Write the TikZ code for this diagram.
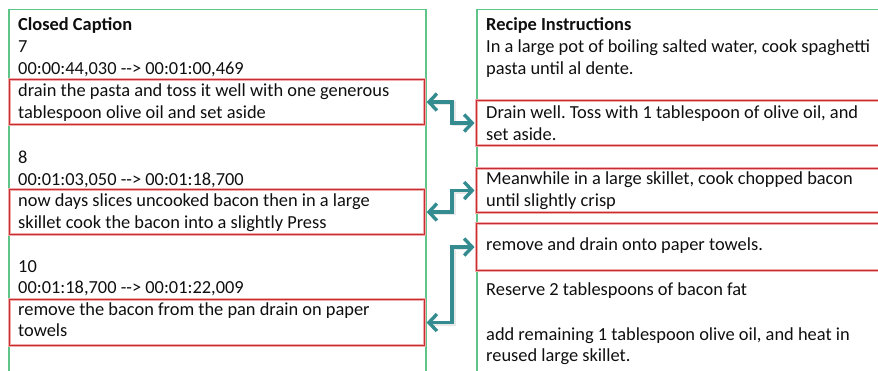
\documentclass[tikz,border=0pt]{standalone}
\usepackage{fontspec}
\setmainfont{Carlito}
\frenchspacing
\usetikzlibrary{arrows.meta}
\definecolor{panelgreen}{RGB}{95,196,135}
\definecolor{boxred}{RGB}{200,45,50}
\definecolor{boxglow}{RGB}{240,170,170}
\definecolor{linkteal}{RGB}{52,140,145}
\definecolor{inktext}{RGB}{15,15,15}
\begin{document}
\begin{tikzpicture}[x=1pt,y=-1pt,
  txt/.style={anchor=base west, inner sep=0pt, text=inktext,
    font=\fontsize{18.4}{21.8}\selectfont},
  head/.style={txt, font=\fontsize{18.4}{21.8}\selectfont\bfseries},
  panel/.style={draw=panelgreen, line width=1.1pt},
  hilite/.style={rectangle, anchor=north west, inner sep=0pt, draw=boxred,
    line width=1.1pt, fill=none,
    preaction={draw=boxglow, line width=3.2pt}},
  link/.style={draw=linkteal, line width=3.4pt, line join=miter,
    {Straight Barb[length=8pt,width=17pt]}-{Straight Barb[length=8pt,width=17pt]},
    shorten <=1.5pt, shorten >=1.5pt},
  linkshade/.style={draw=black!18, opacity=0.5, line width=4.5pt, line join=miter,
    shorten <=4pt, shorten >=4pt}]
\useasboundingbox (0,0) rectangle (878,371);
\clip (0,0) rectangle (878,371);

% column frames
\draw[panel] (9,380) -- (9,9.5) -- (426,9.5) -- (426,380);
\draw[panel] (477,380) -- (477,9.5) -- (890,9.5);

% highlighted caption blocks (left) and instruction blocks (right)
\node[hilite, minimum width=415pt, minimum height=45pt] (l1) at (9,79) {};
\node[hilite, minimum width=415pt, minimum height=45pt] (l2) at (9,189) {};
\node[hilite, minimum width=415pt, minimum height=46pt] (l3) at (9,299) {};
\node[hilite, minimum width=425pt, minimum height=45pt] (r1) at (476,100) {};
\node[hilite, minimum width=425pt, minimum height=44pt] (r2) at (476,168) {};
\node[hilite, minimum width=425pt, minimum height=47pt] (r3) at (476,223) {};

% closed caption column
\node[head] (cch) at (18,31) {Closed Caption};
\node[txt] (c7n) at (18,53) {7};
\node[txt] (c7t) at (18,74.5) {00:00:44,030 -{}-> 00:01:00,469};
\node[txt] (c7a) at (18,97) {drain the pasta and toss it well with one generous};
\node[txt] (c7b) at (18,118.5) {tablespoon olive oil and set aside};
\node[txt] (c8n) at (18,164) {8};
\node[txt] (c8t) at (18,185.5) {00:01:03,050 -{}-> 00:01:18,700};
\node[txt] (c8a) at (18,207) {now days slices uncooked bacon then in a large};
\node[txt] (c8b) at (18,228.5) {skillet cook the bacon into a slightly Press};
\node[txt] (c10n) at (18,272.5) {10};
\node[txt] (c10t) at (18,293.5) {00:01:18,700 -{}-> 00:01:22,009};
\node[txt] (c10a) at (18,315.5) {remove the bacon from the pan drain on paper};
\node[txt] (c10b) at (18,337) {towels};

% recipe column
\node[head] (rih) at (486,31) {Recipe Instructions};
\node[txt] (ri1a) at (486,53) {In a large pot of boiling salted water, cook spaghetti};
\node[txt] (ri1b) at (486,74.5) {pasta until al dente.};
\node[txt] (ri2a) at (486,119) {Drain well. Toss with 1 tablespoon of olive oil, and};
\node[txt] (ri2b) at (486,140.5) {set aside.};
\node[txt] (ri3a) at (486,185) {Meanwhile in a large skillet, cook chopped bacon};
\node[txt] (ri3b) at (486,206.5) {until slightly crisp};
\node[txt] (ri4) at (486,251) {remove and drain onto paper towels.};
\node[txt] (ri5) at (486,295.5) {Reserve 2 tablespoons of bacon fat};
\node[txt] (ri6a) at (486,340) {add remaining 1 tablespoon olive oil, and heat in};
\node[txt] (ri6b) at (486,361.5) {reused large skillet.};

% elbow links between matching blocks
\coordinate (xm) at (452,0);
\coordinate (xs) at (453,0);
\foreach \a/\b in {l1/r1, l2/r2, l3/r3}{
  \draw[linkshade] ([shift={(1,1.2)}]\a.east) -- ([shift={(1,1.2)}]\a.east -| xs)
     |- ([shift={(1,1.2)}]\b.west);
  \draw[link] (\a.east) -- (\a.east -| xm) |- (\b.west);
}
\end{tikzpicture}
\end{document}
